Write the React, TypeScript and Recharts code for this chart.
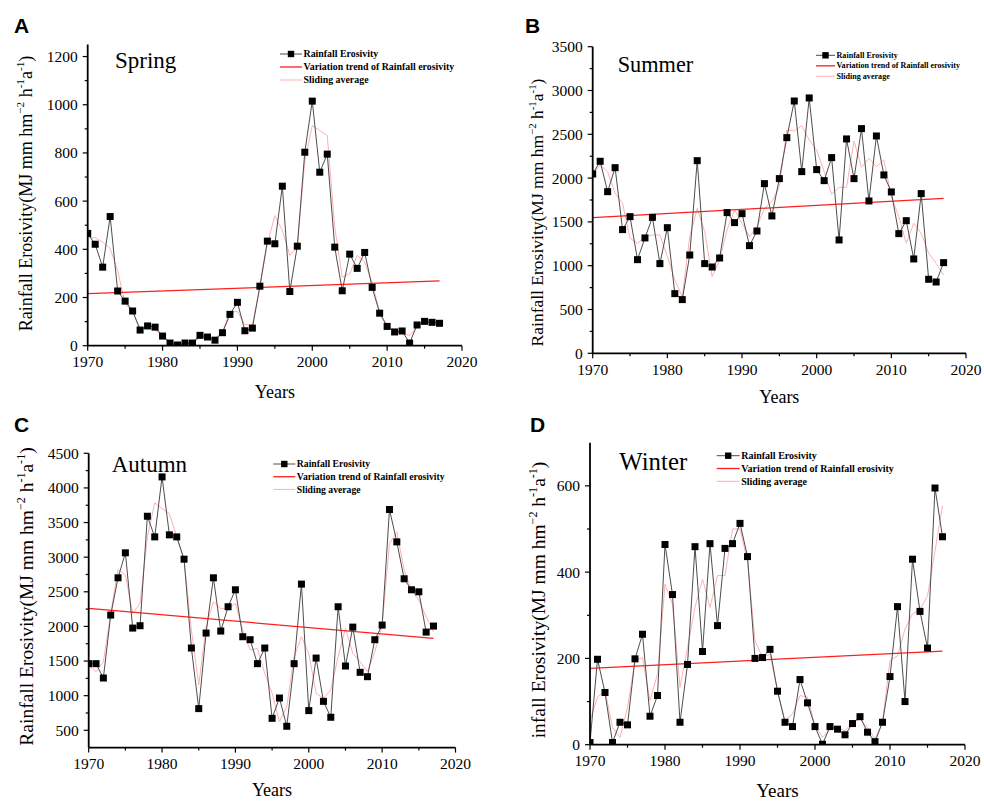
import React from 'react';
import { LineChart, Line, XAxis, YAxis } from 'recharts';

const SERIF = '"Liberation Serif", "Times New Roman", serif';
const SANS = '"Liberation Sans", Arial, sans-serif';

const years = [
  1970, 1971, 1972, 1973, 1974, 1975, 1976, 1977, 1978, 1979,
  1980, 1981, 1982, 1983, 1984, 1985, 1986, 1987, 1988, 1989,
  1990, 1991, 1992, 1993, 1994, 1995, 1996, 1997, 1998, 1999,
  2000, 2001, 2002, 2003, 2004, 2005, 2006, 2007, 2008, 2009,
  2010, 2011, 2012, 2013, 2014, 2015, 2016, 2017,
];
const trendYears = [1970, 2017];
const xTicks = [1970, 1975, 1980, 1985, 1990, 1995, 2000, 2005, 2010, 2015, 2020];

const springErosivity = [
  466, 421, 326, 536, 227, 185, 144, 65, 82, 77,
  40, 11, 3, 11, 11, 43, 36, 23, 54, 130,
  180, 62, 73, 247, 434, 423, 662, 225, 413, 803,
  1015, 720, 795, 409, 228, 380, 321, 387, 242, 135,
  80, 57, 61, 11, 86, 101, 97, 93,
];
const springSliding = [
  450, 448, 430, 403, 312, 174, 140, 75, 75, 66,
  43, 15, 6, 6, 15, 32, 32, 32, 57, 140,
  142, 87, 87, 243, 423, 540, 478, 375, 409, 767,
  913, 893, 872, 492, 285, 298, 375, 347, 260, 140,
  84, 64, 50, 43, 77, 98, 98, 94,
];
const springTrend = [216, 269];
const springTicks = [0, 100, 200, 300, 400, 500, 600, 700, 800, 900, 1000, 1100, 1200];

const summerErosivity = [
  2047, 2192, 1845, 2119, 1412, 1560, 1069, 1317, 1552, 1024,
  1434, 681, 613, 1122, 2199, 1024, 985, 1088, 1606, 1492,
  1594, 1229, 1396, 1937, 1568, 1994, 2462, 2880, 2074, 2915,
  2097, 1971, 2234, 1294, 2447, 1994, 2565, 1739, 2481, 2036,
  1842, 1366, 1514, 1077, 1823, 845, 814, 1035,
];
const summerSliding = [
  2047, 2150, 2074, 1826, 1712, 1313, 1256, 1332, 1351, 1351,
  1103, 837, 647, 1332, 1655, 1389, 875, 1065, 1408, 1636,
  1484, 1332, 1446, 1655, 1731, 1903, 2549, 2538, 2599, 2435,
  2321, 2074, 1815, 1895, 1895, 2424, 2123, 2226, 2131, 2207,
  1788, 1560, 1256, 1484, 1370, 1142, 1027, 894,
];
const summerTrend = [1549, 1769];
const summerTicks = [0, 250, 500, 750, 1000, 1250, 1500, 1750, 2000, 2250, 2500, 2750, 3000, 3250, 3500];

const autumnErosivity = [
  1462, 1462, 1255, 2164, 2702, 3063, 1976, 2010, 3591, 3293,
  4159, 3322, 3293, 2971, 1688, 813, 1904, 2702, 1933, 2284,
  2529, 1851, 1808, 1462, 1688, 673, 966, 558, 1462, 2611,
  784, 1543, 918, 688, 2284, 1428, 1990, 1337, 1274, 1808,
  2019, 3688, 3221, 2688, 2529, 2500, 1918, 2005,
];
const autumnSliding = [
  1442, 1346, 1490, 2188, 2822, 2740, 2188, 2332, 3293, 3784,
  3702, 3630, 3293, 2957, 1947, 1154, 1995, 2356, 2260, 2260,
  2332, 1947, 1659, 1683, 1322, 1034, 625, 841, 1563, 1851,
  1611, 1034, 962, 1082, 1563, 1971, 1611, 1490, 1346, 1635,
  2019, 3197, 3366, 2813, 2524, 2380, 2140, 1923,
];
const autumnTrend = [2260, 1827];
const autumnTicks = [500, 750, 1000, 1250, 1500, 1750, 2000, 2250, 2500, 2750, 3000, 3250, 3500, 3750, 4000, 4250, 4500];

const winterErosivity = [
  5, 198, 121, 5, 52, 46, 199, 256, 66, 114,
  464, 348, 52, 186, 459, 216, 466, 276, 455, 466,
  513, 436, 200, 202, 221, 124, 52, 42, 151, 97,
  42, 1, 42, 36, 23, 49, 65, 29, 7, 52,
  158, 320, 100, 430, 309, 224, 595, 482,
];
const winterSliding = [
  56, 110, 125, 40, 17, 86, 195, 202, 102, 164,
  372, 326, 133, 225, 318, 384, 318, 392, 392, 500,
  500, 426, 241, 202, 210, 125, 56, 71, 114, 110,
  44, 17, 36, 40, 32, 52, 59, 40, 13, 52,
  195, 206, 268, 303, 314, 345, 449, 554,
];
const winterTrend = [177, 217];
const winterTicks = [0, 100, 200, 300, 400, 500, 600];

const legendLabels = ['Rainfall Erosivity', 'Variation trend of Rainfall erosivity', 'Sliding average'];

const LINE_GRAY = '#4d4d4d';
const TREND_RED = '#ff1f1f';
const SLIDE_PINK = '#ffb0b0';

function XTick(props: any) {
  const { x, y, payload } = props;
  const major = payload.value % 10 === 0;
  return (
    <g>
      <line x1={x} x2={x} y1={y} y2={y + (major ? 5 : 3)} stroke="#000" strokeWidth={1.2} />
      {major && (
        <text x={x} y={y + 21.7} textAnchor="middle" fontSize={15.5} fontFamily={SERIF} fill="#000">
          {payload.value}
        </text>
      )}
    </g>
  );
}

function YTick(props: any) {
  const { x, y, payload, major } = props;
  const isMajor = payload.value % major === 0;
  return (
    <g>
      <line x1={x} x2={x - (isMajor ? 5 : 3)} y1={y} y2={y} stroke="#000" strokeWidth={1.2} />
      {isMajor && (
        <text x={x - 10} y={y} dy="0.35em" textAnchor="end" fontSize={15.5} fontFamily={SERIF} fill="#000">
          {payload.value}
        </text>
      )}
    </g>
  );
}

function Square(props: any) {
  const { cx, cy, index } = props;
  if (cx == null || cy == null) return <g key={`s${index}`} />;
  return <rect key={`s${index}`} x={cx - 3.5} y={cy - 3.5} width={7} height={7} fill="#000" />;
}

type PanelCfg = {
  box: { x: number; y: number; w: number; h: number };
  frame: { L: number; T: number; R: number; B: number };
  values: number[];
  sliding: number[];
  trend: number[];
  yDomain: [number, number];
  yTicks: number[];
  yMajor: number;
};

function Panel({ cfg }: { cfg: PanelCfg }) {
  const { box, frame } = cfg;
  const rows = years.map((year, i) => ({ year, value: cfg.values[i], avg: cfg.sliding[i] }));
  const trendRows = trendYears.map((year, i) => ({ year, trend: cfg.trend[i] }));
  return (
    <div style={{ position: 'absolute', left: box.x, top: box.y }}>
      <LineChart
        width={box.w}
        height={box.h}
        data={rows}
        margin={{ top: frame.T - box.y, right: box.x + box.w - frame.R, bottom: 0, left: 0 }}
      >
        <XAxis
          dataKey="year"
          type="number"
          domain={[1970, 2020]}
          ticks={xTicks}
          interval={0}
          height={box.y + box.h - frame.B}
          tickSize={0}
          tickMargin={0}
          tickLine={false}
          axisLine={{ stroke: '#000', strokeWidth: 1.8 }}
          tick={(p: any) => <XTick {...p} />}
          allowDataOverflow
        />
        <XAxis
          xAxisId="top"
          orientation="top"
          type="number"
          domain={[1970, 2020]}
          height={0}
          tick={false}
          tickLine={false}
          axisLine={{ stroke: '#222', strokeWidth: 1.2 }}
        />
        <YAxis
          type="number"
          domain={cfg.yDomain}
          ticks={cfg.yTicks}
          interval={0}
          width={frame.L - box.x}
          tickSize={0}
          tickMargin={0}
          tickLine={false}
          axisLine={{ stroke: '#000', strokeWidth: 1.8 }}
          tick={(p: any) => <YTick {...p} major={cfg.yMajor} />}
          allowDataOverflow
        />
        <YAxis
          yAxisId="right"
          orientation="right"
          type="number"
          domain={cfg.yDomain}
          width={0}
          tick={false}
          tickLine={false}
          axisLine={{ stroke: '#222', strokeWidth: 1.2 }}
        />
        <Line dataKey="avg" stroke={SLIDE_PINK} strokeWidth={1} dot={false} isAnimationActive={false} />
        <Line data={trendRows} dataKey="trend" stroke={TREND_RED} strokeWidth={1.2} dot={false} isAnimationActive={false} />
        <Line dataKey="value" stroke={LINE_GRAY} strokeWidth={1} dot={Square} isAnimationActive={false} />
      </LineChart>
    </div>
  );
}

function YTitle({ x, y, size, head }: { x: number; y: number; size: number; head: string }) {
  const sup = size * 0.62;
  const up = -size * 0.42;
  return (
    <text transform={`translate(${x},${y}) rotate(-90)`} textAnchor="middle" fontFamily={SERIF} fontSize={size} fill="#000">
      {head}
      <tspan dy={up} fontSize={sup}>−2</tspan>
      <tspan dy={-up}> h</tspan>
      <tspan dy={up} fontSize={sup}>-1</tspan>
      <tspan dy={-up}>a</tspan>
      <tspan dy={up} fontSize={sup}>-1</tspan>
      <tspan dy={-up}>)</tspan>
    </text>
  );
}

function LegendBox({ x, y, gap, sw, fs }: { x: number; y: number; gap: number; sw: number; fs: number }) {
  const colors = [LINE_GRAY, TREND_RED, SLIDE_PINK];
  return (
    <g>
      {legendLabels.map((label, i) => {
        const cy = y + i * gap;
        return (
          <g key={label}>
            <line x1={x} x2={x + sw} y1={cy} y2={cy} stroke={colors[i]} strokeWidth={i === 1 ? 1.3 : 1} />
            {i === 0 && <rect x={x + sw / 2 - 3.2} y={cy - 3.2} width={6.4} height={6.4} fill="#000" />}
            <text x={x + sw + 1.5} y={cy} dy="0.33em" fontFamily={SERIF} fontWeight="bold" fontSize={fs} fill="#000">
              {label}
            </text>
          </g>
        );
      })}
    </g>
  );
}

const panels: PanelCfg[] = [
  {
    box: { x: 0, y: 0, w: 492, h: 401 },
    frame: { L: 87.7, T: 44.5, R: 462, B: 345.7 },
    values: springErosivity, sliding: springSliding, trend: springTrend,
    yDomain: [0, 1250], yTicks: springTicks, yMajor: 200,
  },
  {
    box: { x: 492, y: 0, w: 492, h: 401 },
    frame: { L: 592.7, T: 46.7, R: 966, B: 353.3 },
    values: summerErosivity, sliding: summerSliding, trend: summerTrend,
    yDomain: [0, 3500], yTicks: summerTicks, yMajor: 500,
  },
  {
    box: { x: 0, y: 401, w: 492, h: 401 },
    frame: { L: 88.7, T: 453.3, R: 455.5, B: 747.6 },
    values: autumnErosivity, sliding: autumnSliding, trend: autumnTrend,
    yDomain: [250, 4500], yTicks: autumnTicks, yMajor: 500,
  },
  {
    box: { x: 492, y: 401, w: 492, h: 401 },
    frame: { L: 590, T: 442.7, R: 965, B: 744.7 },
    values: winterErosivity, sliding: winterSliding, trend: winterTrend,
    yDomain: [0, 700], yTicks: winterTicks, yMajor: 200,
  },
];

export default function App() {
  return (
    <div style={{ position: 'absolute', left: 0, top: 0, width: 984, height: 802, background: '#fff', overflow: 'hidden' }}>
      {panels.map((cfg, i) => (
        <Panel key={i} cfg={cfg} />
      ))}
      <svg width={984} height={802} style={{ position: 'absolute', left: 0, top: 0, pointerEvents: 'none' }}>
        <g fontFamily={SANS} fontWeight="bold" fontSize={21} fill="#000">
          <text x={14} y={33}>A</text>
          <text x={525} y={33}>B</text>
          <text x={14} y={431.5}>C</text>
          <text x={530} y={431.5}>D</text>
        </g>
        <g fontFamily={SERIF} fill="#000">
          <text x={115} y={68} fontSize={23}>Spring</text>
          <text x={617.7} y={71.7} fontSize={22.3}>Summer</text>
          <text x={111.7} y={472.3} fontSize={23}>Autumn</text>
          <text x={619.3} y={470} fontSize={24.8}>Winter</text>
          <text x={274.9} y={397.7} fontSize={18} textAnchor="middle">Years</text>
          <text x={779.3} y={403} fontSize={18} textAnchor="middle">Years</text>
          <text x={272} y={796} fontSize={18} textAnchor="middle">Years</text>
          <text x={777.5} y={797} fontSize={19} textAnchor="middle">Years</text>
        </g>
        <YTitle x={31.5} y={193.5} size={18} head="Rainfall Erosivity(MJ mm hm" />
        <YTitle x={543} y={212.5} size={17.5} head="Rainfall Erosivity(MJ mm hm" />
        <YTitle x={33} y={596.5} size={19.5} head="Rainfall Erosivity(MJ mm hm" />
        <YTitle x={545} y={600} size={19.5} head="infall Erosivity(MJ mm hm" />
        <LegendBox x={280} y={54} gap={13} sw={22} fs={9.9} />
        <LegendBox x={816} y={55.3} gap={10.5} sw={19} fs={8.1} />
        <LegendBox x={273.3} y={464} gap={12.7} sw={22} fs={9.7} />
        <LegendBox x={716.7} y={455.7} gap={12.8} sw={23} fs={10} />
      </svg>
    </div>
  );
}
